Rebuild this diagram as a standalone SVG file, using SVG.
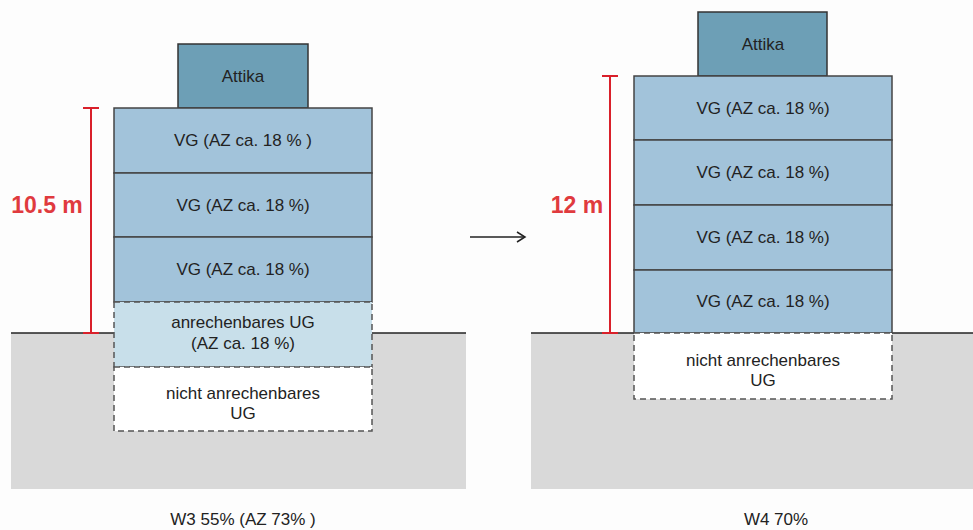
<svg xmlns="http://www.w3.org/2000/svg" width="973" height="530" viewBox="0 0 973 530">
<defs>
<style>
text{font-family:"Liberation Sans",Arial,sans-serif;fill:#222;text-anchor:middle;}
.lbl{font-size:17px;}
.dim{font-size:23px;font-weight:bold;fill:#e03a3e;}
.ground{fill:#d9d9d9;}
.gline{stroke:#222;stroke-width:1.5;fill:none;}
.attika{fill:#6d9fb6;stroke:#333;stroke-width:1.5;}
.vg{fill:#a2c3da;stroke:#444;stroke-width:1.5;}
.ugA{fill:#c8dfea;stroke:#555;stroke-width:1.5;stroke-dasharray:6 4;}
.ugN{fill:#ffffff;stroke:#555;stroke-width:1.5;stroke-dasharray:6 4;}
.red{stroke:#d9202a;stroke-width:2;fill:none;}
</style>
<marker id="arr" markerWidth="12" markerHeight="12" refX="10" refY="6" orient="auto" markerUnits="userSpaceOnUse">
<path d="M2,1 L10,6 L2,11" fill="none" stroke="#222" stroke-width="1.5"/>
</marker>
</defs>
<rect width="973" height="530" fill="#fdfdfd"/>

<g id="ground-left">
<rect class="ground" x="11" y="333" width="455" height="156"/>
<line class="gline" x1="11" y1="333" x2="466" y2="333"/>
</g>
<g id="ground-right">
<rect class="ground" x="531" y="333" width="442" height="156"/>
<line class="gline" x1="531" y1="333" x2="973" y2="333"/>
</g>

<g id="left-attika"><rect class="attika" x="178" y="44" width="130" height="64"/><text class="lbl" x="243" y="82">Attika</text></g>
<g id="left-vg1"><rect class="vg" x="114" y="108" width="258" height="65"/><text class="lbl" x="243" y="146">VG (AZ ca. 18 % )</text></g>
<g id="left-vg2"><rect class="vg" x="114" y="173" width="258" height="64"/><text class="lbl" x="243" y="211">VG (AZ ca. 18 %)</text></g>
<g id="left-vg3"><rect class="vg" x="114" y="237" width="258" height="65"/><text class="lbl" x="243" y="275">VG (AZ ca. 18 %)</text></g>
<g id="left-ug1"><rect class="ugA" x="114" y="302" width="258" height="65"/><text class="lbl" x="243" y="328">anrechenbares UG</text><text class="lbl" x="243" y="349">(AZ ca. 18 %)</text></g>
<g id="left-ug2"><rect class="ugN" x="114" y="367" width="258" height="64"/><text class="lbl" x="243" y="399">nicht anrechenbares</text><text class="lbl" x="243" y="419">UG</text></g>

<g id="left-dim">
<line class="red" x1="91" y1="108" x2="91" y2="333"/>
<line class="red" x1="83" y1="108" x2="99" y2="108"/>
<line class="red" x1="83" y1="333" x2="99" y2="333"/>
<text class="dim" x="47" y="213">10.5 m</text>
</g>

<g id="right-attika"><rect class="attika" x="698" y="12" width="129" height="64"/><text class="lbl" x="763" y="50">Attika</text></g>
<g id="right-vg1"><rect class="vg" x="634" y="76" width="258" height="64"/><text class="lbl" x="763" y="114">VG (AZ ca. 18 %)</text></g>
<g id="right-vg2"><rect class="vg" x="634" y="140" width="258" height="65"/><text class="lbl" x="763" y="178">VG (AZ ca. 18 %)</text></g>
<g id="right-vg3"><rect class="vg" x="634" y="205" width="258" height="65"/><text class="lbl" x="763" y="243">VG (AZ ca. 18 %)</text></g>
<g id="right-vg4"><rect class="vg" x="634" y="270" width="258" height="63"/><text class="lbl" x="763" y="307">VG (AZ ca. 18 %)</text></g>
<g id="right-ug"><rect class="ugN" x="634" y="333" width="258" height="66"/><text class="lbl" x="763" y="366">nicht anrechenbares</text><text class="lbl" x="763" y="386">UG</text></g>

<g id="right-dim">
<line class="red" x1="610" y1="76" x2="610" y2="333"/>
<line class="red" x1="602" y1="76" x2="618" y2="76"/>
<line class="red" x1="602" y1="333" x2="618" y2="333"/>
<text class="dim" x="577" y="213">12 m</text>
</g>

<g id="connectors">
<line x1="470" y1="237" x2="525" y2="237" stroke="#222" stroke-width="1.5" marker-end="url(#arr)"/>
</g>

<g id="captions">
<text class="lbl" x="243" y="525">W3 55% (AZ 73% )</text>
<text class="lbl" x="776" y="525">W4 70%</text>
</g>
</svg>
